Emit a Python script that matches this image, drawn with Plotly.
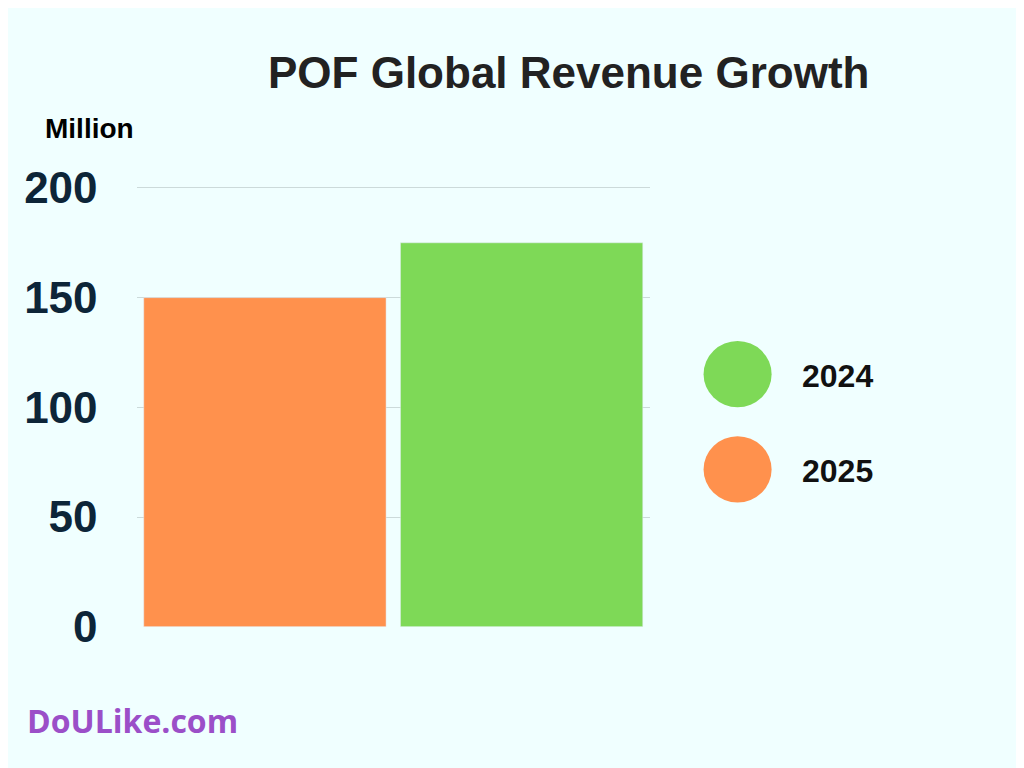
import plotly.graph_objects as go

years = ["2025", "2024"]
revenue = [150, 175]
bar_colors = ["#FF914D", "#7ED957"]
legend_labels = ["2024", "2025"]
legend_colors = ["#7ED957", "#FF914D"]
yticks = [0, 50, 100, 150, 200]

FONT = "Liberation Sans, Arial, sans-serif"
BG = "#F0FFFF"
W, H = 1024, 768

fig = go.Figure()
fig.add_trace(go.Bar(x=years, y=revenue, marker_color=bar_colors, showlegend=False))

# compensate for the viewer's page framing
def px(x): return ((x - 19.3) / 0.97) / W
def py(y): return 1 - ((y - 32.6) / 0.938) / H

shapes, annotations = [], []
for i, (lab, col) in enumerate(zip(legend_labels, legend_colors)):
    cy = [376, 471][i]
    shapes.append(dict(type="circle", xref="paper", yref="paper",
                       x0=px(694), x1=px(760), y0=py(cy + 33), y1=py(cy - 33),
                       fillcolor=col, line_width=0))
    annotations.append(dict(text=f"<b>{lab}</b>", x=px(788), y=py(cy + 2), xref="paper", yref="paper",
                            xanchor="left", yanchor="middle", showarrow=False,
                            font=dict(family=FONT, size=32, color="#111111")))

annotations += [
    dict(text="<b>POF Global Revenue Growth</b>", x=px(563), y=py(75), xref="paper", yref="paper",
         xanchor="center", yanchor="middle", showarrow=False,
         font=dict(family=FONT, size=44, color="#222222")),
    dict(text="<b>Million</b>", x=px(98), y=py(131), xref="paper", yref="paper",
         xanchor="center", yanchor="middle", showarrow=False,
         font=dict(family=FONT, size=28, color="#000000")),
    dict(text="<b>DoULike.com</b>", x=px(36), y=py(722), xref="paper", yref="paper",
         xanchor="left", yanchor="middle", showarrow=False,
         font=dict(family="Open Sans, sans-serif", size=32, color="#9B4FC8")),
]

fig.update_layout(
    width=W, height=H, margin=dict(l=0, r=0, t=0, b=0),
    paper_bgcolor=BG, plot_bgcolor=BG, bargap=0.056,
    xaxis=dict(domain=[px(144), px(642)], showticklabels=False, showgrid=False,
               zeroline=False, showline=False),
    yaxis=dict(domain=[py(628), py(188)], range=[0, 201], tickvals=yticks,
               showgrid=True, gridcolor="#CCDADA", zeroline=False,
               ticklabelstandoff=38,
               tickfont=dict(family=FONT, size=44, color="#0D2538", weight="bold")),
    shapes=shapes, annotations=annotations,
)
fig.write_html("out.html")
